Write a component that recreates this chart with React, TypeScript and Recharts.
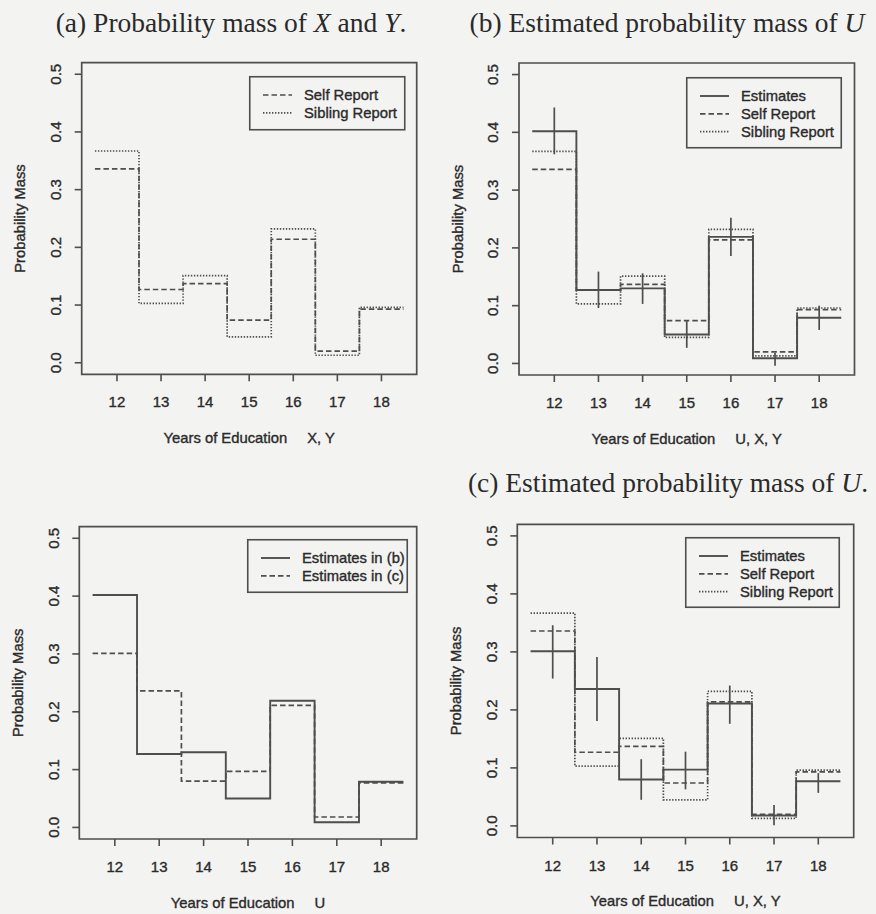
import React from 'react';
import { ComposedChart, Line, Scatter, ErrorBar, XAxis, YAxis, ReferenceArea, Legend } from 'recharts';

// ---------- data ----------
const years = [12, 13, 14, 15, 16, 17, 18];
const yTicks = [0, 0.1, 0.2, 0.3, 0.4, 0.5];

const selfReport = [0.336, 0.127, 0.137, 0.074, 0.214, 0.02, 0.093];
const siblingReport = [0.367, 0.103, 0.151, 0.045, 0.232, 0.013, 0.096];

const estimatesB = [0.402, 0.127, 0.13, 0.05, 0.219, 0.009, 0.079];
const estimatesBLow = [0.362, 0.096, 0.103, 0.027, 0.186, -0.004, 0.058];
const estimatesBHigh = [0.443, 0.159, 0.156, 0.074, 0.252, 0.018, 0.1];

const estimatesC = [0.301, 0.236, 0.08, 0.097, 0.211, 0.018, 0.077];
const estimatesCLow = [0.254, 0.181, 0.045, 0.063, 0.176, 0.001, 0.057];
const estimatesCHigh = [0.346, 0.291, 0.115, 0.128, 0.242, 0.036, 0.091];

// ---------- styles ----------
const INK = '#4e4e4e';
const TEXT = '#2a2a2a';
const BG = '#f3f3f1';
const SANS = '"Liberation Sans", Arial, Helvetica, sans-serif';
const SERIF = '"Liberation Serif", "Times New Roman", serif';
const DASH = '5.5 3';
const DOT = '1.4 1.6';
const TXT_STROKE = 0.35;

type Series = {
  name: string;
  values: number[];
  dash?: string;
  width: number;
  low?: number[];
  high?: number[];
};

const stepData = (values: number[]) => [
  ...values.map((v, i) => ({ x: years[i] - 0.5, y: v })),
  { x: years[years.length - 1] + 0.5, y: values[values.length - 1] },
];

const errData = (values: number[], low: number[], high: number[]) =>
  values.map((v, i) => ({ x: years[i], y: v, err: [v - low[i], high[i] - v] }));

type Rect = { l: number; t: number; w: number; h: number };
type Box = { l: number; t: number; r: number; b: number };

function Panel({ wrap, box, legend, series }: { wrap: Rect; box: Box; legend: Rect; series: Series[] }) {
  const yAxisW = 50;
  const xAxisH = 40;
  const margin = {
    left: box.l - wrap.l - yAxisW,
    top: box.t - wrap.t,
    right: wrap.l + wrap.w - box.r,
    bottom: wrap.t + wrap.h - box.b - xAxisH,
  };
  const plotL = box.l - wrap.l;
  const plotB = box.b - wrap.t;

  const YTick = (p: any) => {
    const cx = plotL - 26;
    return (
      <text
        x={cx}
        y={p.y}
        transform={`rotate(-90 ${cx} ${p.y})`}
        textAnchor="middle"
        dominantBaseline="central"
        fontFamily={SANS}
        fontSize={15}
        fill={TEXT}
        stroke={TEXT}
        strokeWidth={TXT_STROKE}
      >
        {Number(p.payload.value).toFixed(1)}
      </text>
    );
  };
  const XTick = (p: any) => (
    <text
      x={p.x}
      y={plotB + 27.5}
      textAnchor="middle"
      dominantBaseline="central"
      fontFamily={SANS}
      fontSize={15}
      fill={TEXT}
      stroke={TEXT}
      strokeWidth={TXT_STROKE}
    >
      {p.payload.value}
    </text>
  );

  const LegendBox = () => (
    <svg width={legend.w} height={legend.h} style={{ display: 'block', overflow: 'visible' }}>
      <rect x={0.75} y={0.75} width={legend.w - 1.5} height={legend.h - 1.5} fill="none" stroke={INK} strokeWidth={1.6} />
      {series.map((s, i) => {
        const y = 19 + i * 17.8;
        return (
          <g key={s.name}>
            <line x1={14} x2={43} y1={y} y2={y} stroke={INK} strokeWidth={s.width} strokeDasharray={s.dash} />
            <text
              x={55}
              y={y}
              dominantBaseline="central"
              fontFamily={SANS}
              fontSize={14.8}
              fill={TEXT}
              stroke={TEXT}
              strokeWidth={TXT_STROKE}
            >
              {s.name}
            </text>
          </g>
        );
      })}
    </svg>
  );

  return (
    <div style={{ position: 'absolute', left: wrap.l, top: wrap.t, width: wrap.w, height: wrap.h }}>
      <ComposedChart width={wrap.w} height={wrap.h} margin={margin}>
        <XAxis
          type="number"
          dataKey="x"
          domain={[11.2, 18.8]}
          ticks={years}
          interval={0}
          allowDataOverflow
          height={xAxisH}
          axisLine={false}
          tickSize={7}
          tickLine={{ stroke: INK, strokeWidth: 1.6 }}
          tick={XTick}
        />
        <YAxis
          type="number"
          domain={[-0.02, 0.52]}
          ticks={yTicks}
          interval={0}
          allowDataOverflow
          width={yAxisW}
          axisLine={false}
          tickSize={7}
          tickLine={{ stroke: INK, strokeWidth: 1.6 }}
          tick={YTick}
        />
        <ReferenceArea
          x1={11.2}
          x2={18.8}
          y1={-0.02}
          y2={0.52}
          fill="none"
          stroke={INK}
          strokeWidth={1.7}
          ifOverflow="visible"
        />
        {series
          .slice()
          .reverse()
          .map((s) => (
            <Line
              key={s.name}
              data={stepData(s.values)}
              dataKey="y"
              type="stepAfter"
              stroke={INK}
              strokeWidth={s.width}
              strokeDasharray={s.dash}
              dot={false}
              activeDot={false}
              legendType="none"
              isAnimationActive={false}
            />
          ))}
        {series
          .filter((s) => s.low && s.high)
          .map((s) => (
            <Scatter
              key={s.name + '-err'}
              data={errData(s.values, s.low as number[], s.high as number[])}
              dataKey="y"
              shape={() => <g />}
              legendType="none"
              isAnimationActive={false}
            >
              <ErrorBar dataKey="err" direction="y" width={0} stroke={INK} strokeWidth={1.7} isAnimationActive={false} />
            </Scatter>
          ))}
        <Legend
          layout="vertical"
          align="center"
          verticalAlign="middle"
          content={LegendBox}
          wrapperStyle={{ left: legend.l - wrap.l, top: legend.t - wrap.t, width: legend.w, height: legend.h }}
        />
      </ComposedChart>
    </div>
  );
}

const boxA: Box = { l: 81.7, t: 62.7, r: 416.7, b: 374.3 };
const boxB: Box = { l: 519, t: 63, r: 854.5, b: 375 };
const boxC: Box = { l: 79.3, t: 526.7, r: 416.7, b: 839 };
const boxD: Box = { l: 517.3, t: 524.3, r: 853.7, b: 837.5 };

const AxisTexts = ({ box, suffix }: { box: Box; suffix: string }) => {
  const cx = (box.l + box.r) / 2;
  const cy = (box.t + box.b) / 2;
  const lx = box.l - 61.5;
  return (
    <g fontFamily={SANS} fontSize={14.8} fill={TEXT} stroke={TEXT} strokeWidth={TXT_STROKE}>
      <text x={cx} y={box.b + 63.8} textAnchor="middle" dominantBaseline="central">
        <tspan>Years of Education</tspan>
        <tspan dx={20}>{suffix}</tspan>
      </text>
      <text x={lx} y={cy} transform={`rotate(-90 ${lx} ${cy})`} textAnchor="middle" dominantBaseline="central">
        Probability Mass
      </text>
    </g>
  );
};

export default function App() {
  return (
    <div style={{ position: 'absolute', left: 0, top: 0, width: 876, height: 914, background: BG, overflow: 'hidden' }}>
      <Panel
        wrap={{ l: 0, t: 40, w: 438, h: 400 }}
        box={boxA}
        legend={{ l: 249, t: 75.5, w: 156.5, h: 54.5 }}
        series={[
          { name: 'Self Report', values: selfReport, dash: DASH, width: 1.7 },
          { name: 'Sibling Report', values: siblingReport, dash: DOT, width: 1.7 },
        ]}
      />
      <Panel
        wrap={{ l: 438, t: 40, w: 438, h: 400 }}
        box={boxB}
        legend={{ l: 686, t: 76.5, w: 156, h: 71.5 }}
        series={[
          { name: 'Estimates', values: estimatesB, width: 1.9, low: estimatesBLow, high: estimatesBHigh },
          { name: 'Self Report', values: selfReport, dash: DASH, width: 1.7 },
          { name: 'Sibling Report', values: siblingReport, dash: DOT, width: 1.7 },
        ]}
      />
      <Panel
        wrap={{ l: 0, t: 500, w: 438, h: 414 }}
        box={boxC}
        legend={{ l: 247.3, t: 539.3, w: 161, h: 54 }}
        series={[
          { name: 'Estimates in (b)', values: estimatesB, width: 1.9 },
          { name: 'Estimates in (c)', values: estimatesC, dash: DASH, width: 1.7 },
        ]}
      />
      <Panel
        wrap={{ l: 438, t: 500, w: 438, h: 414 }}
        box={boxD}
        legend={{ l: 685.3, t: 537.3, w: 155, h: 71 }}
        series={[
          { name: 'Estimates', values: estimatesC, width: 1.9, low: estimatesCLow, high: estimatesCHigh },
          { name: 'Self Report', values: selfReport, dash: DASH, width: 1.7 },
          { name: 'Sibling Report', values: siblingReport, dash: DOT, width: 1.7 },
        ]}
      />
      <svg width={876} height={914} style={{ position: 'absolute', left: 0, top: 0, pointerEvents: 'none' }}>
        <g fontFamily={SERIF} fontSize={27.5} fill={TEXT}>
          <text x={231} y={32} textAnchor="middle">
            <tspan>{'(a) Probability mass of '}</tspan>
            <tspan fontStyle="italic">X</tspan>
            <tspan>{' and '}</tspan>
            <tspan fontStyle="italic">Y</tspan>
            <tspan>.</tspan>
          </text>
          <text x={667} y={32} textAnchor="middle">
            <tspan>{'(b) Estimated probability mass of '}</tspan>
            <tspan fontStyle="italic">U</tspan>
          </text>
          <text x={668} y={491.7} textAnchor="middle">
            <tspan>{'(c) Estimated probability mass of '}</tspan>
            <tspan fontStyle="italic">U</tspan>
            <tspan>.</tspan>
          </text>
        </g>
        <AxisTexts box={boxA} suffix="X, Y" />
        <AxisTexts box={boxB} suffix="U, X, Y" />
        <AxisTexts box={boxC} suffix="U" />
        <AxisTexts box={boxD} suffix="U, X, Y" />
      </svg>
    </div>
  );
}
